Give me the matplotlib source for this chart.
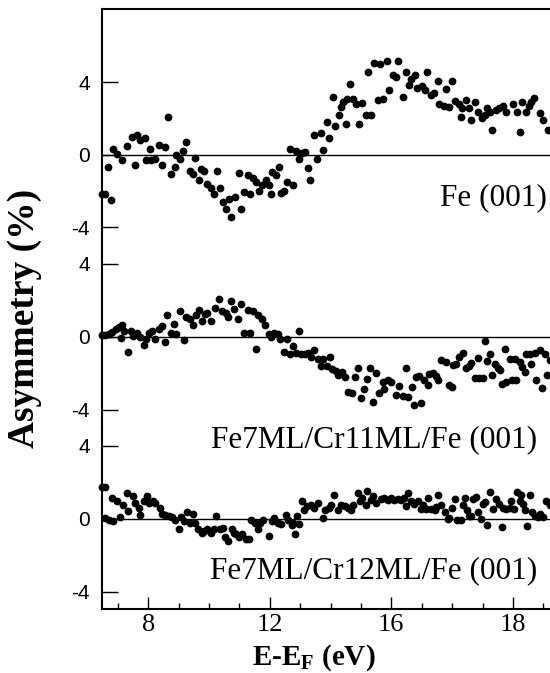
import matplotlib
matplotlib.use("Agg")
import matplotlib.pyplot as plt
from matplotlib.ticker import FixedLocator, MultipleLocator

plt.rcParams['mathtext.fontset'] = 'custom'
plt.rcParams['mathtext.rm'] = 'Liberation Serif'
plt.rcParams['mathtext.bf'] = 'Liberation Serif:bold'

# ---------------- data ----------------
fe_x = [6.47, 6.59, 6.79, 6.67, 6.84, 6.97, 7.14, 7.30, 7.48, 7.57, 7.63, 7.74, 7.88, 7.94,
        8.07, 8.09, 8.22, 8.36, 8.44, 8.55, 8.65, 8.76, 8.87, 8.90, 9.05, 9.13, 9.25, 9.37,
        9.46, 9.55, 9.68, 9.75, 9.83, 9.94, 10.06, 10.17, 10.25, 10.37, 10.46, 10.56, 10.65,
        10.74, 10.85, 10.98, 11.05, 11.15, 11.27, 11.35, 11.45, 11.56, 11.64, 11.74, 11.88,
        11.97, 12.03, 12.08, 12.22, 12.31, 12.37, 12.47, 12.58, 12.66, 12.78, 12.87, 12.95,
        13.07, 13.16, 13.26, 13.33, 13.45, 13.56, 13.67, 13.76, 13.88, 13.96, 14.07, 14.13,
        14.28, 14.34, 14.42, 14.51, 14.55, 14.63, 14.75, 14.83, 14.94, 15.03, 15.15, 15.24,
        15.32, 15.43, 15.56, 15.64, 15.73, 15.85, 15.93, 16.04, 16.16, 16.23, 16.37, 16.48,
        16.57, 16.65, 16.77, 16.86, 17.00, 17.12, 17.18, 17.29, 17.41, 17.52, 17.58, 17.72,
        17.79, 17.91, 17.99, 18.10, 18.22, 18.28, 18.33, 18.45, 18.56, 18.62, 18.74, 18.85,
        18.97, 19.09, 19.14, 19.26, 19.32, 19.43, 19.55, 19.66, 19.78, 20.01, 20.13, 20.24,
        20.30, 20.42, 20.53, 20.61, 20.71, 20.88, 21.00, 21.17]
fe_y = [-2.16, -2.16, -2.47, -0.69, 0.33, 0.05, -0.31, 0.49, 0.97, -0.58, 1.11, 0.82, 0.91, -0.27,
        0.31, -0.27, -0.24, 0.51, -0.58, 0.44, 2.10, -1.08, -0.68, 0.00, -0.22, 0.18, 0.69, -0.88,
        -1.06, -0.20, -1.37, -0.80, -0.91, -1.61, -1.83, -2.16, -0.89, -1.83, -2.59, -2.98, -2.41,
        -3.40, -2.32, -1.00, -2.96, -2.05, -1.13, -2.14, -1.28, -1.52, -1.97, -1.64, -1.37,
        -1.64, -2.16, -0.95, -1.13, -0.69, -2.10, -2.01, -1.52, 0.33, -1.64, 0.22, -0.22,
        0.09, 0.13, -0.73, -1.41, 1.10, -0.22, 1.19, 0.27, 1.79, 0.91, 3.16, 1.59,
        2.19, 2.65, 2.89, 1.70, 3.07, 3.89, 3.09, 2.79, 1.70, 2.83, 2.21, 4.57,
        2.19, 5.02, 3.01, 4.97, 3.07, 5.15, 3.56, 4.38, 4.29, 5.15, 3.18, 4.57,
        3.84, 4.16, 4.38, 3.69, 3.78, 3.56, 4.57, 3.29, 3.38, 4.05, 2.78, 2.68,
        3.60, 2.61, 4.05, 2.98, 2.79, 2.10, 2.56, 3.01, 2.59, 1.92, 2.92, 2.37,
        2.01, 2.19, 2.56, 2.37, 1.37, 2.47, 2.59, 2.68, 2.37, 2.79, 2.37, 1.24,
        2.89, 2.37, 2.68, 2.92, 3.11, 2.28, 1.92, 1.37]

cr11_x = [6.47, 6.59, 6.72, 6.82, 6.93, 7.05, 7.14, 7.11, 7.22, 7.34, 7.42, 7.51, 7.63, 7.72,
          7.86, 7.92, 8.03, 8.13, 8.21, 8.35, 8.44, 8.55, 8.63, 8.76, 8.84, 8.90, 9.04, 9.17,
          9.25, 9.36, 9.48, 9.57, 9.68, 9.77, 9.87, 9.94, 10.06, 10.20, 10.32, 10.43, 10.56,
          10.64, 10.73, 10.81, 10.95, 11.04, 11.16, 11.27, 11.35, 11.45, 11.54, 11.62, 11.74,
          11.85, 11.97, 12.05, 12.14, 12.26, 12.35, 12.47, 12.58, 12.66, 12.78, 12.87, 12.95,
          13.04, 13.16, 13.26, 13.36, 13.47, 13.59, 13.67, 13.76, 13.88, 13.97, 14.05, 14.17,
          14.26, 14.37, 14.46, 14.59, 14.71, 14.80, 14.90, 15.00, 15.09, 15.21, 15.30, 15.41,
          15.50, 15.61, 15.73, 15.77, 15.88, 15.99, 16.15, 16.26, 16.37, 16.48, 16.54, 16.67,
          16.74, 16.81, 16.92, 16.98, 17.09, 17.20, 17.25, 17.36, 17.47, 17.53, 17.64, 17.80,
          17.91, 17.99, 18.02, 18.13, 18.24, 18.35, 18.46, 18.55, 18.63, 18.74, 18.85, 18.90,
          19.01, 19.09, 19.16, 19.23, 19.31, 19.40, 19.51, 19.59, 19.64, 19.75, 19.78, 19.89,
          19.98, 20.06, 20.11, 20.22, 20.31, 20.39, 20.44, 20.55, 20.61, 20.72, 20.77, 20.88,
          20.96, 21.05, 21.13, 21.21]
cr11_y = [0.09, 0.09, 0.13, 0.26, 0.40, 0.55, 0.62, -0.05, 0.31, -0.84, 0.31, 0.04, 0.18, 0.00,
          -0.46, -0.15, 0.18, 0.31, -0.11, 0.44, 0.58, -0.29, 1.17, 0.22, 0.68, 0.13, 1.41, -0.18,
          1.10, 0.95, 0.62, 1.22, 1.46, 0.86, 1.26, 1.32, 0.89, 1.59, 2.08, 1.41, 1.32,
          1.10, 1.95, 1.50, 0.99, 1.81, 0.18, 1.44, 0.22, 1.41, -0.69, 1.17, 0.95,
          0.62, 0.13, 0.00, 0.18, 0.16, -0.11, -0.84, -0.11, -0.97, -0.51, -0.88, 0.31,
          -0.93, -0.97, -0.88, -1.11, -0.73, -1.24, -1.61, -1.21, -1.61, -1.10, -1.75, -1.88,
          -2.12, -1.94, -2.19, -3.03, -3.07, -2.21, -1.70, -3.34, -2.85, -2.30, -1.74, -3.56,
          -1.97, -3.11, -2.48, -2.84, -2.38, -2.47, -3.17, -2.71, -3.26, -1.74, -3.30, -2.75,
          -3.75, -2.20, -2.16, -3.63, -2.38, -2.66, -2.05, -1.98, -2.16, -2.35, -1.25, -1.38,
          -2.66, -2.75, -1.56, -1.51, -1.10, -0.87, -1.74, -1.62, -1.43, -2.26, -1.14, -2.26,
          -2.24, -0.25, -1.34, -0.92, -2.11, -1.47, -1.74, -1.84, -2.57, -0.65, -2.47, -1.20,
          -2.38, -1.20, -2.35, -1.38, -1.65, -1.93, -0.96, -0.92, -1.47, -0.89, -2.35, -0.74,
          -2.79, -0.92, -2.11, -1.29]

cr12_x = [6.47, 6.59, 6.59, 6.70, 6.82, 6.84, 6.97, 7.08, 7.16, 7.30, 7.34, 7.51, 7.57, 7.69,
          7.74, 7.86, 7.95, 8.03, 8.15, 8.23, 8.38, 8.44, 8.55, 8.67, 8.78, 8.88, 9.02, 9.07,
          9.19, 9.27, 9.36, 9.46, 9.54, 9.65, 9.77, 9.85, 9.94, 10.06, 10.15, 10.23, 10.35,
          10.46, 10.52, 10.64, 10.75, 10.81, 10.89, 10.98, 11.10, 11.22, 11.33, 11.39, 11.50,
          11.62, 11.68, 11.79, 11.97, 12.08, 12.14, 12.26, 12.37, 12.55, 12.60, 12.72, 12.78,
          12.84, 12.89, 12.95, 13.07, 13.13, 13.24, 13.36, 13.47, 13.59, 13.74, 13.82, 13.94,
          14.00, 14.11, 14.23, 14.34, 14.46, 14.57, 14.66, 14.75, 14.90, 14.98, 15.04, 15.15,
          15.21, 15.32, 15.40, 15.50, 15.66, 15.77, 15.88, 15.99, 16.10, 16.21, 16.32, 16.43,
          16.48, 16.56, 16.65, 16.76, 16.87, 16.98, 17.03, 17.14, 17.22, 17.31, 17.42, 17.47,
          17.55, 17.64, 17.75, 17.86, 17.91, 17.99, 18.08, 18.17, 18.28, 18.35, 18.41, 18.50,
          18.57, 18.63, 18.68, 18.79, 18.85, 18.94, 19.01, 19.09, 19.16, 19.23, 19.34, 19.45,
          19.53, 19.64, 19.67, 19.78, 19.89, 19.95, 20.04, 20.15, 20.22, 20.28, 20.33, 20.39,
          20.45, 20.55, 20.63, 20.72, 20.81, 20.88, 20.99, 21.10, 21.21]
cr12_y = [1.72, 1.72, 0.04, -0.04, 1.13, -0.13, 0.95, 0.09, 0.77, 1.40, 0.41, 1.22, 0.86, 0.59,
          0.23, 0.95, 1.22, 0.86, 0.95, 0.86, 0.59, 0.29, 0.23, 0.14, 0.11, -0.04, -0.54, 0.11,
          -0.13, 0.38, -0.21, 0.29, -0.25, -0.54, -0.75, -0.66, -0.57, -0.75, -0.54, 0.14, -0.57,
          -0.48, -1.02, -1.20, -0.57, -0.75, -0.84, -1.02, -0.84, -1.11, -1.11, -0.04, -0.21,
          -0.57, -0.21, -0.04, -0.93, -0.13, 0.05, -0.21, -0.30, 0.23, -0.04, -0.36, -0.21,
          -0.84, 0.14, -0.30, 0.95, 0.50, 0.68, 0.77, 0.59, 0.86, 0.05, 0.50, 0.59,
          0.77, 1.31, 0.50, 0.77, 0.68, 0.59, 0.50, 0.77, 1.40, 0.95, 1.13, 0.77,
          1.54, 1.04, 1.25, 0.86, 1.09, 1.13, 1.04, 1.13, 1.04, 1.09, 1.04, 1.13,
          0.69, 1.40, 0.95, 0.82, 1.00, 0.51, 0.73, 0.55, 1.13, 0.51, 0.46, 0.64,
          1.28, 0.73, 0.36, 0.00, 0.04, 0.58, 1.09, -0.09, -0.09, 0.73, 1.15, 0.49,
          0.13, 0.18, 1.09, 1.18, 0.36, 0.00, 0.82, 0.91, -0.33, 1.49, 0.55, 1.09,
          0.82, -0.46, 0.58, 0.51, 0.58, 1.00, 0.55, 1.46, 1.00, 1.28, 0.82, 0.46,
          -0.42, 1.28, 0.36, 0.18, 0.09, 0.27, 0.09, 1.00, 0.73]

panel_labels = ["Fe (001)", "Fe7ML/Cr11ML/Fe (001)", "Fe7ML/Cr12ML/Fe (001)"]
y_ticks = [-4, 0, 4]
x_major = [8, 12, 16, 20]
x_major_labels = ["8", "12", "16", "18"]

# ---------------- figure ----------------
W, H = 550, 673
fig = plt.figure(figsize=(W / 100, H / 100), dpi=100)

left = 101.7 / W
width = 1.0 - left
rects = [
    (left, 1 - 245.6 / H, width, 236.3 / H),
    (left, 1 - 427.9 / H, width, 182.3 / H),
    (left, 1 - 609.0 / H, width, 181.1 / H),
]
ylims = [(-5.0, 8.0), (-5.0, 5.0), (-4.93, 4.97)]
series = [(fe_x, fe_y), (cr11_x, cr11_y), (cr12_x, cr12_y)]

axes = []
for i, (rect, yl, (xs, ys)) in enumerate(zip(rects, ylims, series)):
    ax = fig.add_axes(rect)
    ax.set_xlim(6.47, 21.22)
    ax.set_ylim(*yl)
    ax.axhline(0, color='black', lw=1.0, zorder=1)
    ax.plot(xs, ys, 'o', color='black', markersize=5.6, markeredgewidth=0,
            clip_on=False, zorder=3)
    for s in ax.spines.values():
        s.set_linewidth(1.5)
    ax.spines['right'].set_visible(False)
    ax.spines['top'].set_visible(i == 0)
    ax.spines['bottom'].set_visible(i == 2)
    ax.patch.set_visible(False)
    ax.set_yticks(y_ticks)
    ax.set_yticklabels([str(t) for t in y_ticks], family='Liberation Sans', fontsize=15)
    ax.tick_params(axis='y', direction='in', length=11.5, width=1.0, pad=8.5,
                   right=False)
    if i < 2:
        ax.tick_params(axis='x', which='both', bottom=False, top=False,
                       labelbottom=False)
    else:
        ax.xaxis.set_major_locator(FixedLocator(x_major))
        ax.xaxis.set_minor_locator(MultipleLocator(1))
        ax.set_xticklabels(x_major_labels, family='Liberation Serif', fontsize=19)
        ax.tick_params(axis='x', which='major', direction='in', length=8.5,
                       width=1.0, pad=3.5, top=False)
        ax.tick_params(axis='x', which='minor', direction='in', length=4.3,
                       width=1.0, top=False)
    axes.append(ax)

# panel labels
label_pos = [(547, 205), (537, 447), (537, 578)]
for lab, (px, py) in zip(panel_labels, label_pos):
    fig.text(px / W, 1 - py / H, lab, ha='right', va='baseline',
             family='Liberation Serif', fontsize=22.5)

# axis labels
fig.text(25 / W, 1 - 318 / H, 'Asymmetry (%)', rotation=90, ha='center', va='center',
         family='Liberation Serif', fontweight='bold', fontsize=27)
fig.text(314 / W, 1 - 665 / H, r'E-E$_\mathbf{F}$ (eV)', ha='center', va='baseline',
         family='Liberation Serif', fontweight='bold', fontsize=21)

fig.savefig('out.png', dpi=100)
